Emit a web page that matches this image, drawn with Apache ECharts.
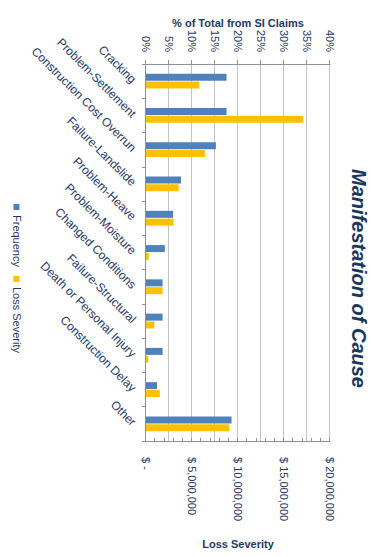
<!DOCTYPE html>
<html>
<head>
<meta charset="utf-8">
<script src="https://cdn.jsdelivr.net/npm/echarts@6/dist/echarts.min.js"></script>
<style>
  html, body { margin: 0; padding: 0; background: #ffffff; overflow: hidden; }
  body { width: 371px; height: 557px; position: relative; }
  /* The chart is laid out landscape and turned a quarter turn clockwise to fit the portrait page */
  #chart {
    position: absolute; left: 0; top: 0;
    width: 557px; height: 371px;
    transform-origin: 0 0;
    transform: translate(371px, 0) rotate(90deg);
  }
</style>
</head>
<body>
<div id="chart"></div>
<script>
// Causes of structural-insurance claims
const categories = [
  'Cracking',
  'Problem-Settlement',
  'Construction Cost Overrun',
  'Failure-Landslide',
  'Problem-Heave',
  'Problem-Moisture',
  'Changed Conditions',
  'Failure-Structural',
  'Death or Personal Injury',
  'Construction Delay',
  'Other'
];

// Share of claim count, percent
const frequency = [17.5, 17.5, 15.2, 7.6, 5.9, 4.1, 3.6, 3.6, 3.6, 2.4, 18.6];

// Total loss per cause, dollars
const lossSeverity = [5800000, 17100000, 6400000, 3550000, 3000000, 300000, 1800000, 900000, 250000, 1500000, 9050000];

const seriesNames = ['Frequency', 'Loss Severity'];
const percentTicks = { min: 0, max: 40, interval: 5 };
const dollarTicks = { min: 0, max: 20000000, interval: 5000000 };

const FONT = '"Liberation Sans", Arial, sans-serif';
const NAVY = '#1f3864';
const AXIS_GREY = '#8c919b';
const GRID_GREY = '#bfc3ca';

function dollarLabel(v) {
  if (v === 0) return '$ -';
  return '$ ' + v.toLocaleString('en-US');
}

const chart = echarts.init(document.getElementById('chart'), null, { renderer: 'svg' });

chart.setOption({
  backgroundColor: '#ffffff',
  animation: false,
  title: {
    text: 'Manifestation of Cause',
    left: 'center',
    top: 2,
    padding: 0,
    textStyle: {
      fontFamily: FONT, fontSize: 20, fontWeight: 'bold', fontStyle: 'italic', color: '#17375e'
    }
  },
  legend: {
    data: seriesNames,
    bottom: 6,
    left: 'center',
    itemWidth: 6,
    itemHeight: 6,
    itemGap: 9,
    icon: 'rect',
    textStyle: { fontFamily: FONT, fontSize: 11, color: NAVY }
  },
  grid: { left: 64, right: 102, top: 41, bottom: 146, containLabel: false },
  xAxis: {
    type: 'category',
    data: categories,
    axisLine: { show: true, lineStyle: { color: AXIS_GREY, width: 1 } },
    axisTick: { show: true, length: 4, lineStyle: { color: AXIS_GREY } },
    axisLabel: {
      rotate: 45, margin: 12, interval: 0,
      fontFamily: FONT, fontSize: 12, color: NAVY
    },
    splitLine: { show: false }
  },
  yAxis: [
    {
      type: 'value',
      position: 'left',
      min: percentTicks.min, max: percentTicks.max, interval: percentTicks.interval,
      name: '% of Total from SI Claims',
      nameLocation: 'middle',
      nameRotate: 90,
      nameGap: 36,
      nameMoveOverlap: false,
      nameTextStyle: { fontFamily: FONT, fontSize: 11, fontWeight: 'bold', color: NAVY },
      axisLine: { show: true, lineStyle: { color: AXIS_GREY, width: 1 } },
      axisTick: { show: true, length: 4, lineStyle: { color: AXIS_GREY } },
      axisLabel: {
        margin: 12, fontFamily: FONT, fontSize: 11, color: NAVY,
        formatter: v => v + '%'
      },
      splitLine: { show: true, lineStyle: { color: GRID_GREY, width: 1 } }
    },
    {
      type: 'value',
      position: 'right',
      min: dollarTicks.min, max: dollarTicks.max, interval: dollarTicks.interval,
      name: 'Loss Severity',
      nameLocation: 'middle',
      nameRotate: 90,
      nameGap: 97,
      nameMoveOverlap: false,
      nameTextStyle: { fontFamily: FONT, fontSize: 11, fontWeight: 'bold', color: NAVY },
      axisLine: { show: true, lineStyle: { color: AXIS_GREY, width: 1 } },
      axisTick: { show: true, inside: true, length: 3, lineStyle: { color: AXIS_GREY } },
      minorTick: { show: true, splitNumber: 5, length: 3, lineStyle: { color: AXIS_GREY } },
      axisLabel: {
        margin: 16, fontFamily: FONT, fontSize: 11, color: NAVY,
        formatter: dollarLabel
      },
      splitLine: { show: false }
    }
  ],
  series: [
    {
      name: seriesNames[0],
      type: 'bar',
      yAxisIndex: 0,
      data: frequency,
      barWidth: 7,
      barGap: '12%',
      itemStyle: { color: '#4f81bd' }
    },
    {
      name: seriesNames[1],
      type: 'bar',
      yAxisIndex: 1,
      data: lossSeverity,
      barWidth: 7,
      itemStyle: { color: '#ffc000' }
    }
  ]
});
</script>
</body>
</html>
